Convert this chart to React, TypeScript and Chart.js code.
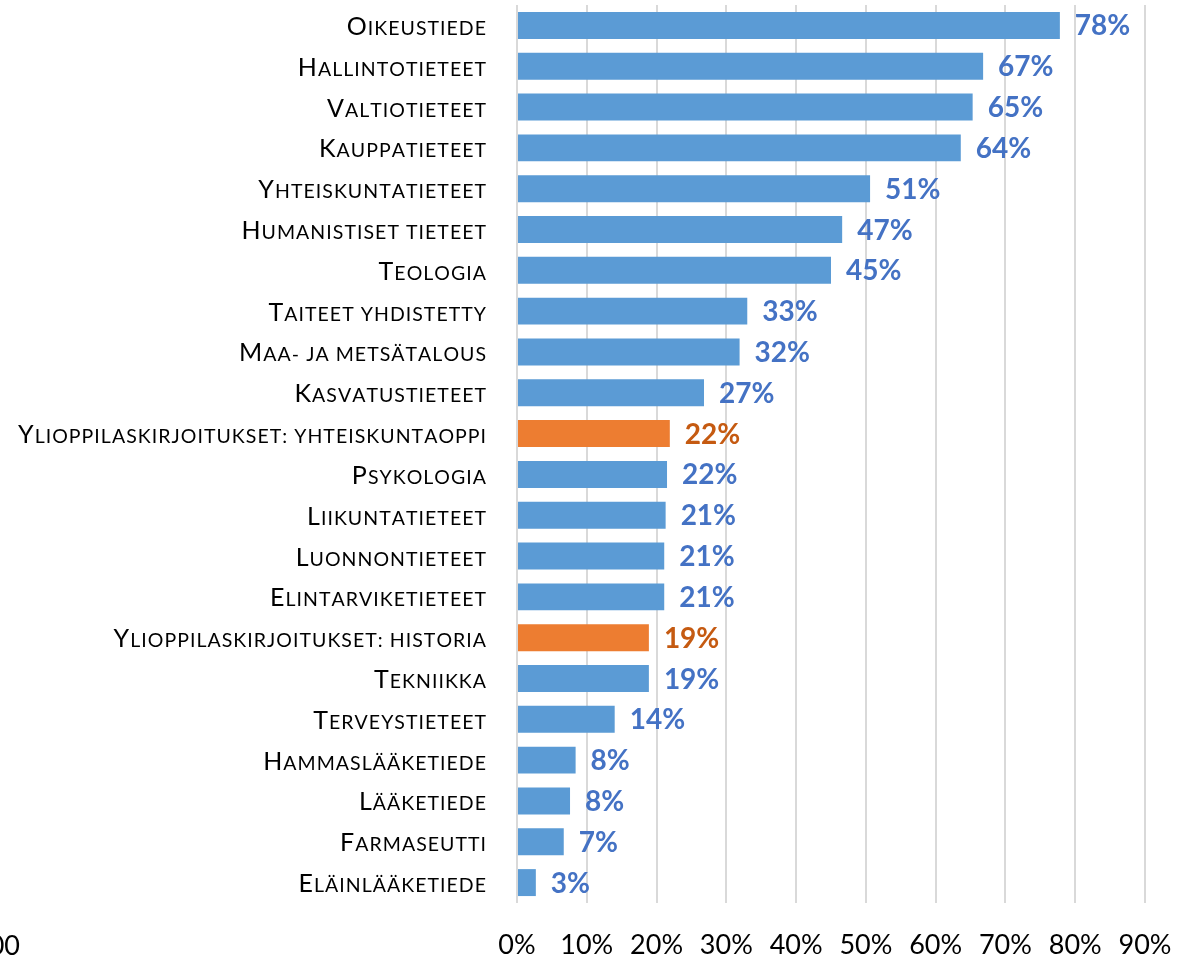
import React, { useEffect, useRef } from "react";
import { Chart, registerables } from "chart.js";

Chart.register(...registerables);

const categories = [
  "Oikeustiede",
  "Hallintotieteet",
  "Valtiotieteet",
  "Kauppatieteet",
  "Yhteiskuntatieteet",
  "Humanistiset tieteet",
  "Teologia",
  "Taiteet yhdistetty",
  "Maa- ja metsätalous",
  "Kasvatustieteet",
  "Ylioppilaskirjoitukset: yhteiskuntaoppi",
  "Psykologia",
  "Liikuntatieteet",
  "Luonnontieteet",
  "Elintarviketieteet",
  "Ylioppilaskirjoitukset: historia",
  "Tekniikka",
  "Terveystieteet",
  "Hammaslääketiede",
  "Lääketiede",
  "Farmaseutti",
  "Eläinlääketiede",
];

const values = [77.8, 66.8, 65.3, 63.6, 50.6, 46.6, 45.0, 33.0, 31.9, 26.8, 21.9, 21.5, 21.3, 21.1, 21.1, 18.9, 18.9, 14.0, 8.4, 7.6, 6.7, 2.7];

const highlighted = [false, false, false, false, false, false, false, false, false, false, true, false, false, false, false, true, false, false, false, false, false, false];

const xTicks = [0, 10, 20, 30, 40, 50, 60, 70, 80, 90];

const BLUE = "#5B9BD5";
const ORANGE = "#ED7D31";
const BLUE_TEXT = "#4472C4";
const ORANGE_TEXT = "#C55A11";
const FONT = "Lato, 'Open Sans', sans-serif";
const CAP_SIZE = 25;
const SMALL_SIZE = 19.5;
const SPACING = 1.04;

function drawSmallCaps(ctx: CanvasRenderingContext2D, text: string, right: number, baseline: number) {
  const glyphs: { t: string; big: boolean; w: number }[] = [];
  let total = 0;
  for (const ch of text) {
    const big = ch !== ch.toLowerCase();
    const t = ch.toUpperCase();
    ctx.font = `${big ? CAP_SIZE : SMALL_SIZE}px ${FONT}`;
    const w = ctx.measureText(t).width + SPACING;
    glyphs.push({ t, big, w });
    total += w;
  }
  total -= SPACING;
  let x = right - total;
  glyphs.forEach((g) => {
    ctx.font = `${g.big ? CAP_SIZE : SMALL_SIZE}px ${FONT}`;
    ctx.fillText(g.t, x, baseline);
    x += g.w;
  });
}

const labelPlugin = {
  id: "valueLabels",
  afterDatasetsDraw(chart: any) {
    const ctx = chart.ctx;
    const meta = chart.getDatasetMeta(0);
    const yScale = chart.scales.y;
    ctx.save();
    // category labels (small caps)
    ctx.fillStyle = "#000";
    ctx.textAlign = "left";
    ctx.textBaseline = "alphabetic";
    categories.forEach((c, i) => {
      const y = yScale.getPixelForValue(i);
      drawSmallCaps(ctx, c, yScale.right - 31, y + 9.5);
    });
    // value labels
    ctx.font = `bold 28px ${FONT}`;
    ctx.textAlign = "left";
    ctx.textBaseline = "middle";
    meta.data.forEach((el: any, i: number) => {
      ctx.fillStyle = highlighted[i] ? ORANGE_TEXT : BLUE_TEXT;
      ctx.fillText(Math.round(values[i]) + "%", el.x + 15, el.y + 1);
    });
    // clipped text at the far left bottom
    ctx.font = `27px ${FONT}`;
    ctx.fillStyle = "#000";
    ctx.textAlign = "right";
    ctx.textBaseline = "alphabetic";
    ctx.fillText("00", 20, 955);
    ctx.restore();
  },
};

export default function App() {
  const ref = useRef<HTMLCanvasElement>(null);
  useEffect(() => {
    document.body.style.margin = "0";
    const chart = new Chart(ref.current!, {
      type: "bar",
      data: {
        labels: categories,
        datasets: [
          {
            data: values,
            backgroundColor: values.map((_, i) => (highlighted[i] ? ORANGE : BLUE)),
            barPercentage: 0.66,
            categoryPercentage: 1,
          },
        ],
      },
      options: {
        indexAxis: "y",
        responsive: false,
        animation: false,
        layout: { padding: { left: 0, right: 54, top: 5, bottom: 0 } },
        plugins: { legend: { display: false }, tooltip: { enabled: false } },
        scales: {
          x: {
            min: 0,
            max: 90,
            afterBuildTicks: (scale: any) => {
              scale.ticks = xTicks.map((v) => ({ value: v }));
            },
            afterFit: (scale: any) => {
              scale.height = 56;
            },
            grid: { color: "#d9d9d9", lineWidth: 2, drawTicks: false },
            border: { display: false },
            ticks: {
              padding: 26,
              color: "#000",
              font: { family: FONT, size: 27 },
              callback: (v: any) => v + "%",
            },
          },
          y: {
            afterFit: (scale: any) => {
              scale.width = 517;
              scale.paddingTop = 0;
              scale.paddingBottom = 0;
            },
            grid: { display: false, drawTicks: false },
            border: { display: false },
            ticks: { display: false, autoSkip: false },
          },
        },
      },
      plugins: [labelPlugin],
    });
    return () => chart.destroy();
  }, []);
  return (
    <div style={{ position: "fixed", left: 0, top: 0, width: 1199, height: 959 }}>
      <canvas ref={ref} width={1199} height={959} />
    </div>
  );
}
